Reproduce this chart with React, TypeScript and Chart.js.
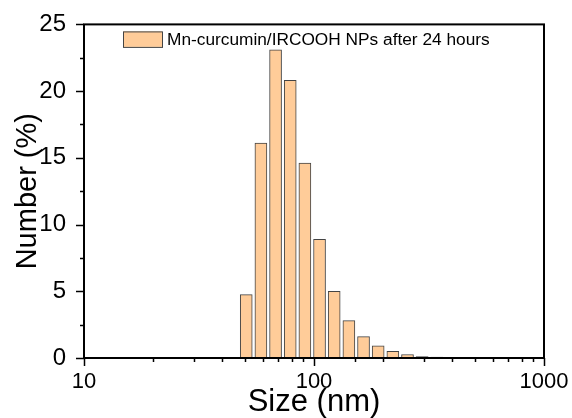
import React, { useEffect, useRef } from "react";
import { Chart, registerables } from "chart.js";

Chart.register(...registerables);

const sizes = [50.75, 58.77, 68.06, 78.82, 91.28, 105.7, 122.4, 141.8, 164.2, 190.1, 220.2, 255.0, 295.3, 342.0];
const numbers = [4.75, 16.1, 23.1, 20.8, 14.6, 8.9, 5.0, 2.8, 1.6, 0.92, 0.5, 0.26, 0.1, 0.06];
const xTickLabels = [10, 100, 1000];
const yTickLabels = [0, 5, 10, 15, 20, 25];
const seriesLabel = "Mn-curcumin/IRCOOH NPs after 24 hours";
const xTitle = "Size (nm)";
const yTitle = "Number (%)";

const FONT = "'Liberation Sans', Arial, sans-serif";
const BAR_FILL = "#FFCC99";
const BAR_EDGE = "#444444";

const framePlugin = {
  id: "frameTicksLegend",
  afterDatasetsDraw(chart: any) {
    const { ctx, chartArea } = chart;
    const { left, right, top, bottom } = chartArea;
    const xs = chart.scales.x;
    const ys = chart.scales.y;
    ctx.save();
    ctx.strokeStyle = "#000";
    ctx.lineWidth = 2;
    ctx.strokeRect(left, top, right - left, bottom - top);
    ctx.lineWidth = 1.5;
    ctx.beginPath();
    for (const t of ys.ticks) {
      const v = t.value;
      const py = Math.round(ys.getPixelForValue(v)) + 0.5;
      const len = yTickLabels.includes(v) ? 8 : 4;
      ctx.moveTo(left, py);
      ctx.lineTo(left - len, py);
    }
    for (const t of xs.ticks) {
      const v = t.value;
      if (v < 10 || v > 1000) continue;
      const px = Math.round(xs.getPixelForValue(v)) + 0.5;
      const len = xTickLabels.includes(v) ? 8 : 4;
      ctx.moveTo(px, bottom);
      ctx.lineTo(px, bottom + len);
    }
    ctx.stroke();

    // legend
    const ds = chart.data.datasets[0];
    const sx = left + 39;
    const sy = top + 7;
    ctx.fillStyle = ds.backgroundColor;
    ctx.fillRect(sx, sy, 39, 15.5);
    ctx.strokeStyle = ds.borderColor;
    ctx.lineWidth = 1;
    ctx.strokeRect(sx + 0.5, sy + 0.5, 39, 15.5);
    ctx.fillStyle = "#000";
    ctx.font = `17.3px ${FONT}`;
    ctx.textBaseline = "middle";
    ctx.textAlign = "left";
    ctx.fillText(ds.label, sx + 44, sy + 8.5);
    ctx.restore();
  },
};

export default function App() {
  const ref = useRef<HTMLCanvasElement | null>(null);
  useEffect(() => {
    if (!ref.current) return;
    const chart = new Chart(ref.current, {
      type: "bar",
      data: {
        datasets: [
          {
            label: seriesLabel,
            data: sizes.map((s, i) => ({ x: s, y: numbers[i] })),
            backgroundColor: BAR_FILL,
            borderColor: BAR_EDGE,
            borderWidth: 1,
            barThickness: 12,
          },
        ],
      },
      options: {
        responsive: false,
        animation: false,
        devicePixelRatio: 1,
        layout: { padding: { top: 22, right: 28, left: 0, bottom: 0 } },
        plugins: { legend: { display: false }, tooltip: { enabled: false } },
        scales: {
          x: {
            type: "logarithmic",
            position: "bottom",
            min: 10,
            max: 1000,
            offset: false,
            grid: { display: false },
            border: { display: false },
            afterFit: (s: any) => {
              s.height = 60;
            },
            ticks: {
              autoSkip: false,
              maxRotation: 0,
              padding: 3,
              color: "#000",
              font: { family: FONT, size: 22 },
              callback: (v: any) => (xTickLabels.includes(Number(v)) ? String(v) : ""),
            },
            title: {
              display: true,
              text: xTitle,
              color: "#000",
              font: { family: FONT, size: 31, lineHeight: 1 },
              padding: { top: 0, bottom: 0 },
            },
          },
          y: {
            type: "linear",
            min: 0,
            max: 25,
            grid: { display: false },
            border: { display: false },
            afterFit: (s: any) => {
              s.width = 84;
            },
            ticks: {
              stepSize: 2.5,
              autoSkip: false,
              padding: 10,
              color: "#000",
              font: { family: FONT, size: 24 },
              callback: (v: any) => (yTickLabels.includes(Number(v)) ? String(v) : ""),
            },
            title: {
              display: true,
              text: yTitle,
              color: "#000",
              font: { family: FONT, size: 29, lineHeight: 1.2 },
              padding: { top: 11, bottom: 0 },
            },
          },
        },
      },
      plugins: [framePlugin],
    });
    return () => chart.destroy();
  }, []);
  return (
    <div style={{ position: "fixed", left: 0, top: 0, width: 572, height: 418, background: "#fff" }}>
      <canvas ref={ref} width={572} height={418} />
    </div>
  );
}
